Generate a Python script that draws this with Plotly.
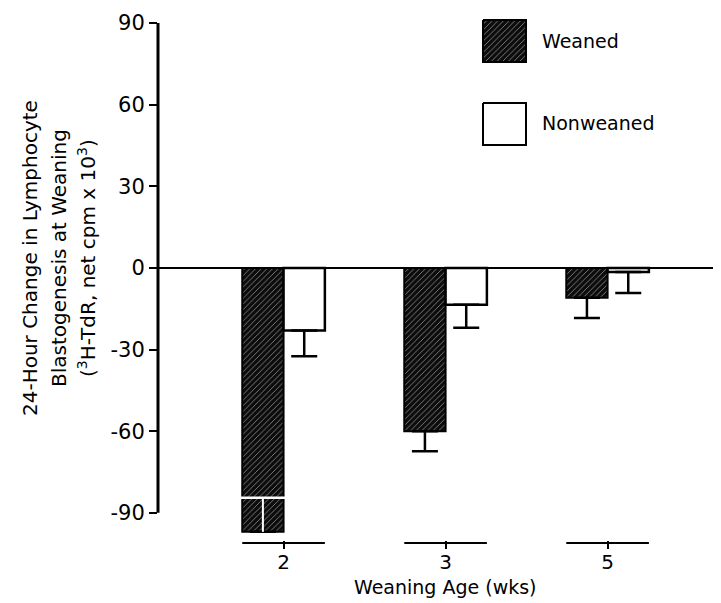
import plotly.graph_objects as go

# ---- data ----
ages = ["2", "3", "5"]
series_names = ["Weaned", "Nonweaned"]
weaned = [-97, -60, -11]
weaned_se = [12.5, 7.4, 7.4]
weaned_se_inside = [True, False, False]   # error bar drawn inside the bar (white)
nonweaned = [-23, -13.5, -1.5]
nonweaned_se = [9.5, 8.5, 7.7]
y_ticks = [-90, -60, -30, 0, 30, 60, 90]
y_tick_labels = ["-90", "-60", "-30", "0", "30", "60", "90"]
y_title_lines = [
    "24-Hour Change in Lymphocyte",
    "Blastogenesis at Weaning",
    "(<sup>3</sup>H-TdR, net cpm x 10<sup>3</sup>)",
]
x_title = "Weaning Age (wks)"

FONT = "DejaVu Sans"
BW = 0.255
DARK = "#0c0c0c"
idx = list(range(len(ages)))

fig = go.Figure()

fig.add_trace(go.Bar(
    x=idx, y=weaned, width=BW, offset=-BW, name=series_names[0], showlegend=False,
    marker=dict(color=DARK, line=dict(color="black", width=2),
                pattern=dict(shape="/", fgcolor="white", bgcolor=DARK, size=4, solidity=0.22)),
    error_y=dict(type="data", symmetric=False, array=[0] * len(ages),
                 arrayminus=[0 if ins else e for e, ins in zip(weaned_se, weaned_se_inside)],
                 color="black", thickness=2.5, width=13),
))
fig.add_trace(go.Bar(
    x=idx, y=nonweaned, width=BW, offset=0, name=series_names[1], showlegend=False,
    marker=dict(color="white", line=dict(color="black", width=2.5)),
    error_y=dict(type="data", symmetric=False, array=[0] * len(ages),
                 arrayminus=nonweaned_se, color="black", thickness=2.5, width=13),
))

# inner (white) error bars
for i, ins in enumerate(weaned_se_inside):
    if ins:
        fig.add_trace(go.Scatter(
            x=[i - BW / 2], y=[weaned[i] + weaned_se[i]], mode="markers", showlegend=False,
            marker=dict(symbol="line-ew", size=34, color="white", line=dict(color="white", width=2.5)),
            error_y=dict(type="data", symmetric=False, array=[0], arrayminus=[weaned_se[i]],
                         color="white", thickness=2, width=0),
            hoverinfo="skip",
        ))

# legend boxes in a pixel-scaled overlay (page pixels)
def box(x0, y0, x1, y1):
    return [x0, x1, x1, x0, x0], [y0, y0, y1, y1, y0]

bx, by = box(483, 20, 526, 62)
fig.add_trace(go.Scatter(
    x=bx, y=by, xaxis="x2", yaxis="y2", mode="lines", fill="toself", showlegend=False,
    line=dict(color="black", width=2), fillcolor=DARK,
    fillpattern=dict(shape="/", fgcolor="white", bgcolor=DARK, size=4, solidity=0.22),
    hoverinfo="skip",
))
bx, by = box(483, 103, 526, 145)
fig.add_trace(go.Scatter(
    x=bx, y=by, xaxis="x2", yaxis="y2", mode="lines", fill="toself", showlegend=False,
    line=dict(color="black", width=2), fillcolor="white", hoverinfo="skip",
))
for name, yy in zip(series_names, [41, 123]):
    fig.add_annotation(x=540, y=yy, xref="x2", yref="y2", text=name, showarrow=False,
                       xanchor="left", yanchor="middle",
                       font=dict(family=FONT, size=19, color="black"))

# y-axis line (only -90..90)
fig.add_shape(type="line", xref="paper", yref="y", x0=0, x1=0, y0=y_ticks[0], y1=y_ticks[-1],
              line=dict(color="black", width=3))
# x-axis segments under each group
for i in idx:
    fig.add_shape(type="line", xref="x", yref="paper", x0=i - BW, x1=i + BW, y0=-0.0057, y1=-0.0057,
                  line=dict(color="black", width=2))

# axis titles (y title: one rotated annotation per line, page-pixel centres)
for line, px in zip(y_title_lines, [30, 59, 87]):
    fig.add_annotation(
        xref="paper", yref="paper", x=(px - 158) / 563, y=0.532, textangle=-90, showarrow=False,
        xanchor="center", yanchor="middle", text=line,
        font=dict(family=FONT, size=20, color="black"),
    )
fig.add_annotation(
    xref="paper", yref="paper", x=0.51, y=-0.0887, showarrow=False,
    xanchor="center", yanchor="middle", text=x_title,
    font=dict(family=FONT, size=19, color="black"),
)

fig.update_layout(
    width=713, height=595,
    margin=dict(l=150, r=0, t=2, b=63, pad=0),
    paper_bgcolor="white", plot_bgcolor="white",
    font=dict(family=FONT, color="black"),
    xaxis=dict(range=[-0.775, 2.70], tickvals=idx, ticktext=ages, ticks="outside",
               ticklen=8, tickwidth=2, tickcolor="black", showline=False, showgrid=False,
               zeroline=False, ticklabelstandoff=-4,
               tickfont=dict(family=FONT, size=20, color="black")),
    yaxis=dict(range=[-100, 94.78], tickvals=y_ticks, ticktext=y_tick_labels, ticks="outside",
               ticklen=8, tickwidth=2, tickcolor="black", showline=False, showgrid=False,
               zeroline=True, zerolinecolor="black", zerolinewidth=2,
               tickfont=dict(family=FONT, size=21, color="black")),
    xaxis2=dict(overlaying="x", anchor="y2", range=[158, 721], visible=False),
    yaxis2=dict(overlaying="y", anchor="x2", range=[540, 10], visible=False),
)

fig.write_html("out.html")
